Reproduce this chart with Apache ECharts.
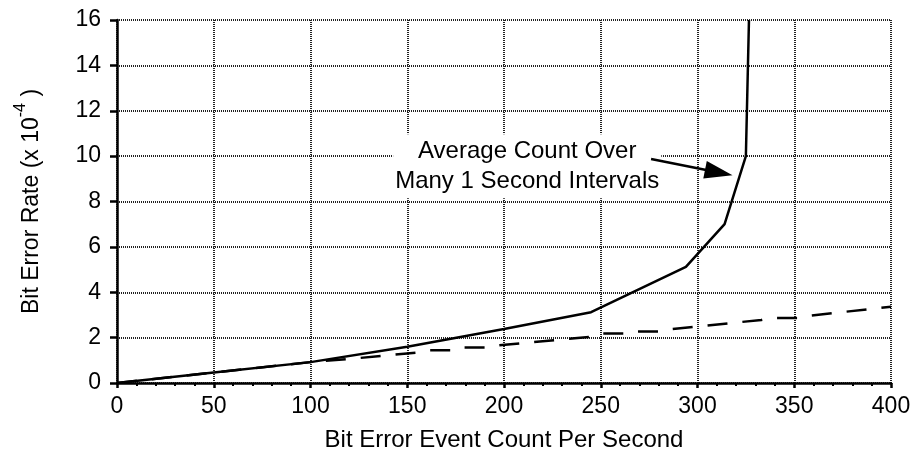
<!DOCTYPE html>
<html>
<head>
<meta charset="utf-8">
<script src="https://cdn.jsdelivr.net/npm/echarts@6/dist/echarts.min.js"></script>
<style>
  html, body { margin: 0; padding: 0; background: #fff; }
  #chart { width: 910px; height: 455px; }
</style>
</head>
<body>
<div id="chart"></div>
<script>
// Average count over many 1-second intervals (solid curve)
const avgCount = [0, 50, 100, 150, 200, 245, 294, 314, 325, 326.6];
const avgBer   = [0, 0.46, 0.92, 1.6, 2.38, 3.12, 5.12, 7.0, 10.0, 16];

// Single-interval count (dashed curve)
const oneCount = [0, 100, 125, 155, 160, 175, 178, 192, 197, 245, 249, 262, 266, 281, 285, 333, 338, 352, 356, 400];
const oneBer   = [0, 0.92, 1.1, 1.34, 1.44, 1.44, 1.56, 1.56, 1.66, 2.04, 2.18, 2.18, 2.27, 2.27, 2.36, 2.78, 2.87, 2.87, 2.95, 3.36];

// Axis ticks
const xTicks = [0, 50, 100, 150, 200, 250, 300, 350, 400];
const yTicks = [0, 2, 4, 6, 8, 10, 12, 14, 16];

// Callout text and arrow (data coordinates)
const calloutLines = ['Average Count Over', 'Many 1 Second Intervals'];
const calloutAt = [212, 9.55];
const arrowFrom = [276, 9.87];
const arrowTo = [311, 9.28];

const FONT = "'Liberation Sans', Arial, Helvetica, sans-serif";
const zip = (xs, ys) => xs.map((x, i) => [x, ys[i]]);

const gridLine = { show: true, lineStyle: { color: '#222', width: 2, type: [1, 1] } };

const chart = echarts.init(document.getElementById('chart'), null, { renderer: 'canvas' });
chart.setOption({
  animation: false,
  backgroundColor: '#fff',
  grid: { left: 117, right: 19, top: 20, bottom: 72, outerBoundsMode: 'none', containLabel: false },
  xAxis: {
    type: 'value',
    min: xTicks[0],
    max: xTicks[xTicks.length - 1],
    interval: xTicks[1] - xTicks[0],
    name: 'Bit Error Event Count Per Second',
    nameLocation: 'middle',
    nameGap: 45,
    nameTextStyle: { fontFamily: FONT, fontSize: 24, color: '#000' },
    axisLine: { show: true, onZero: false, lineStyle: { color: '#000', width: 2.5 } },
    axisTick: { show: true, length: 5, lineStyle: { color: '#000', width: 2.5 } },
    minorTick: { show: true, splitNumber: 5, length: 3, lineStyle: { color: '#000', width: 2 } },
    axisLabel: { margin: 12, fontFamily: FONT, fontSize: 23, color: '#000' },
    splitLine: gridLine
  },
  yAxis: {
    type: 'value',
    min: yTicks[0],
    max: yTicks[yTicks.length - 1],
    interval: yTicks[1] - yTicks[0],
    name: '{n|Bit Error Rate (x 10}{s|-4}{n| )}',
    nameLocation: 'middle',
    nameGap: 74,
    nameTextStyle: {
      fontFamily: FONT, fontSize: 23, color: '#000',
      rich: {
        n: { fontFamily: FONT, fontSize: 23, color: '#000', verticalAlign: 'bottom' },
        s: { fontFamily: FONT, fontSize: 16, color: '#000', verticalAlign: 'bottom', padding: [0, 0, 14, 0] }
      }
    },
    axisLine: { show: true, lineStyle: { color: '#000', width: 2.5 } },
    axisTick: { show: true, length: 7, lineStyle: { color: '#000', width: 2.5 } },
    axisLabel: { margin: 16, fontFamily: FONT, fontSize: 23, color: '#000' },
    splitLine: gridLine
  },
  series: [
    {
      type: 'line',
      data: zip(oneCount, oneBer),
      symbol: 'none',
      z: 3,
      lineStyle: { color: '#000', width: 2.5, type: [20, 15] }
    },
    {
      type: 'line',
      data: zip(avgCount, avgBer),
      symbol: 'none',
      z: 4,
      lineStyle: { color: '#000', width: 2.5 },
      markPoint: {
        symbol: 'rect',
        symbolSize: 0,
        silent: true,
        z: 5,
        data: [{ coord: calloutAt }],
        label: {
          show: true,
          position: 'inside',
          formatter: calloutLines.join('\n'),
          fontFamily: FONT,
          fontSize: 24,
          lineHeight: 30,
          color: '#000',
          align: 'center',
          backgroundColor: '#fff',
          padding: [2, 2]
        }
      },
      markLine: {
        silent: true,
        z: 6,
        symbol: ['none', 'triangle'],
        symbolSize: [18, 28],
        label: { show: false },
        lineStyle: { color: '#000', width: 2.5, type: 'solid' },
        data: [[{ coord: arrowFrom }, { coord: arrowTo }]]
      }
    }
  ]
});
</script>
</body>
</html>
